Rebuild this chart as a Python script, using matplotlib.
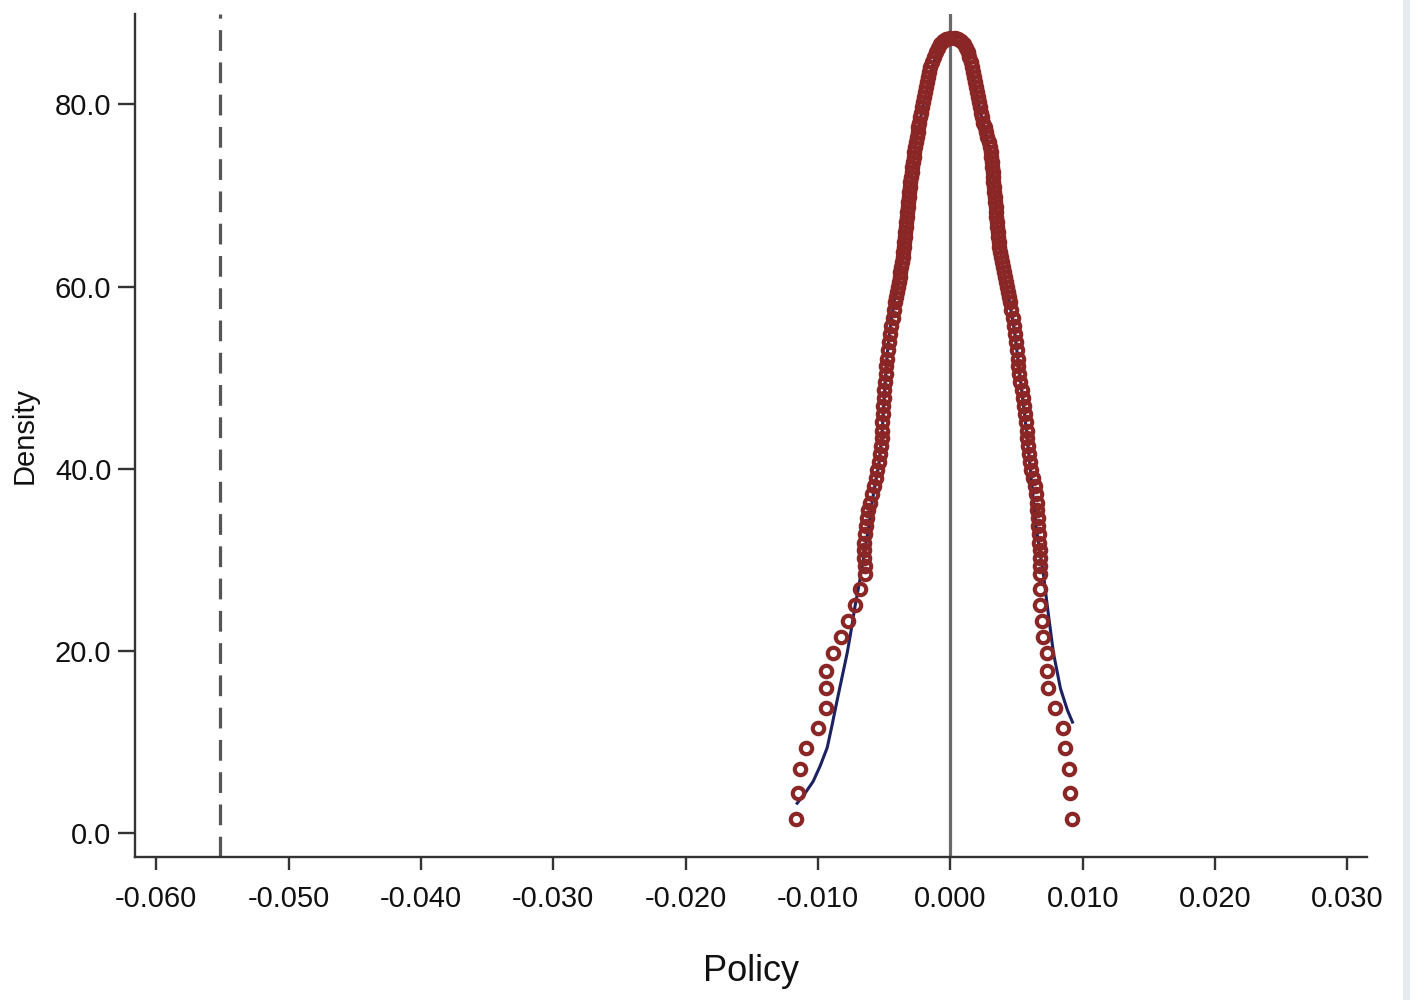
import numpy as np
import matplotlib
matplotlib.use("Agg")
import matplotlib.pyplot as plt
from matplotlib.patches import Rectangle
from matplotlib.ticker import FormatStrFormatter

plt.rcParams['font.family'] = ['Liberation Sans', 'DejaVu Sans']
plt.rcParams['axes.unicode_minus'] = False

# ===============================
# DATA
# ===============================

# density levels of the placebo estimates (shared by both flanks)
dens = [87.3, 87.2, 86.9, 86.6, 86.2, 85.7, 85.2, 84.6, 84.1, 83.5,
        83.0, 82.4, 81.9, 81.3, 80.8, 80.2, 79.7, 79.1, 78.6, 78.0,
        77.5, 77.0, 76.4, 75.9, 75.3, 74.8, 74.2, 73.7, 73.1, 72.6,
        72.0, 71.5, 70.9, 70.4, 69.8, 69.3, 68.7, 68.2, 67.6, 67.1,
        66.5, 66.0, 65.4, 64.9, 64.3, 63.8, 63.2, 62.7, 62.1, 61.6,
        61.0, 60.5, 59.9, 59.4, 58.8, 58.3, 57.4, 56.5, 55.7, 54.8,
        53.9, 53.0, 52.1, 51.3, 50.4, 49.5, 48.6, 47.8, 46.9, 46.0,
        45.1, 44.2, 43.4, 42.5, 41.6, 40.7, 39.9, 39.0, 38.1, 37.2,
        36.3, 35.5, 34.6, 33.7, 32.8, 31.9, 31.1, 30.2, 29.3, 28.5,
        26.8, 25.0, 23.3, 21.5, 19.8, 17.8, 15.9, 13.8, 11.6, 9.4,
        7.0, 4.4, 1.6]

# placebo coefficients, left flank (negative side)
coef_left = [0.0, -0.00030, -0.00053, -0.00076, -0.00091, -0.00106, -0.00121, -0.00136, -0.00151, -0.00159,
             -0.00166, -0.00174, -0.00182, -0.00189, -0.00197, -0.00204, -0.00212, -0.00219, -0.00227, -0.00234,
             -0.00242, -0.00242, -0.00250, -0.00257, -0.00265, -0.00272, -0.00272, -0.00280, -0.00287, -0.00287,
             -0.00295, -0.00303, -0.00303, -0.00310, -0.00310, -0.00318, -0.00318, -0.00325, -0.00325, -0.00333,
             -0.00333, -0.00340, -0.00340, -0.00348, -0.00348, -0.00356, -0.00356, -0.00363, -0.00371, -0.00378,
             -0.00378, -0.00386, -0.00393, -0.00401, -0.00408, -0.00416, -0.00424, -0.00431, -0.00446, -0.00454,
             -0.00461, -0.00469, -0.00477, -0.00484, -0.00484, -0.00492, -0.00499, -0.00499, -0.00507, -0.00507,
             -0.00514, -0.00514, -0.00514, -0.00522, -0.00530, -0.00537, -0.00552, -0.00560, -0.00575, -0.00590,
             -0.00605, -0.00620, -0.00628, -0.00635, -0.00643, -0.00651, -0.00651, -0.00651, -0.00643, -0.00643,
             -0.00681, -0.00719, -0.00772, -0.00825, -0.00885, -0.00938, -0.00938, -0.00938, -0.00998, -0.01089,
             -0.01135, -0.01150, -0.01165]

# placebo coefficients, right flank (positive side)
coef_right = [0.00038, 0.00061, 0.00083, 0.00106, 0.00121, 0.00136, 0.00144, 0.00159, 0.00166, 0.00174,
              0.00182, 0.00189, 0.00197, 0.00204, 0.00212, 0.00219, 0.00227, 0.00234, 0.00242, 0.00250,
              0.00265, 0.00272, 0.00280, 0.00295, 0.00303, 0.00310, 0.00310, 0.00318, 0.00318, 0.00325,
              0.00325, 0.00325, 0.00333, 0.00333, 0.00340, 0.00340, 0.00348, 0.00348, 0.00348, 0.00356,
              0.00356, 0.00363, 0.00363, 0.00371, 0.00371, 0.00378, 0.00386, 0.00393, 0.00401, 0.00408,
              0.00416, 0.00424, 0.00431, 0.00439, 0.00446, 0.00454, 0.00461, 0.00477, 0.00484, 0.00492,
              0.00499, 0.00507, 0.00514, 0.00514, 0.00522, 0.00530, 0.00545, 0.00552, 0.00560, 0.00567,
              0.00575, 0.00582, 0.00582, 0.00590, 0.00598, 0.00605, 0.00613, 0.00628, 0.00643, 0.00651,
              0.00658, 0.00658, 0.00666, 0.00666, 0.00673, 0.00673, 0.00681, 0.00681, 0.00681, 0.00681,
              0.00681, 0.00681, 0.00696, 0.00703, 0.00734, 0.00734, 0.00741, 0.00794, 0.00855, 0.00870,
              0.00900, 0.00908, 0.00923]

# kernel density curve
kd_x = [-0.01157, -0.01097, -0.01036, -0.00983, -0.00930, -0.00893, -0.00855, -0.00817, -0.00779, -0.00749,
        -0.00719, -0.00688, -0.00658, -0.00620, -0.00582, -0.00537, -0.00514, -0.00499, -0.00484, -0.00461,
        -0.00424, -0.00371, -0.00325, -0.00295, -0.00257, -0.00197, -0.00129, -0.00061, 0.0, 0.00061,
        0.00121, 0.00189, 0.00250, 0.00310, 0.00340, 0.00371, 0.00424, 0.00484, 0.00530, 0.00575,
        0.00613, 0.00651, 0.00703, 0.00734, 0.00779, 0.00832, 0.00885, 0.00923]
kd_y = [3.3, 4.4, 5.7, 7.4, 9.4, 11.9, 14.6, 17.2, 19.8, 22.3,
        25.0, 27.4, 30.0, 33.3, 37.1, 40.8, 44.3, 47.9, 51.4, 54.9,
        58.4, 62.9, 67.3, 71.7, 76.1, 80.5, 84.6, 86.4, 86.8, 86.5,
        85.4, 81.6, 77.7, 73.9, 69.5, 64.5, 60.2, 55.2, 49.7, 44.2,
        38.7, 33.3, 28.5, 24.8, 19.8, 15.9, 13.5, 12.2]

true_coef = -0.0552      # actual estimate (dashed line)
x_ticks = [-0.06, -0.05, -0.04, -0.03, -0.02, -0.01, 0.0, 0.01, 0.02, 0.03]
y_ticks = [0, 20, 40, 60, 80]

# ===============================
# PLOT
# ===============================

marker_col = '#8b2626'
line_col = '#1b2161'
axis_col = '#333333'

fig = plt.figure(figsize=(14.18, 10.07), dpi=100)
ax = fig.add_axes([0.0952, 0.149, 0.869, 0.837])

ax.axvline(0.0, color='#6a6a6a', lw=2.3, zorder=1)
ax.axvline(true_coef, color='#555555', lw=2.3, ls=(0, (6.5, 3.6)), zorder=1)

ax.plot(kd_x, kd_y, color=line_col, lw=2.2, zorder=2)
ax.plot(coef_left, dens, ls='none', marker='o', ms=8.2, mfc='none',
        mec=marker_col, mew=3.0, zorder=3)
ax.plot(coef_right, dens, ls='none', marker='o', ms=8.2, mfc='none',
        mec=marker_col, mew=3.0, zorder=3)

ax.set_xlim(-0.0616, 0.0315)
ax.set_ylim(-2.6, 89.9)

ax.set_xticks(x_ticks)
ax.set_yticks(y_ticks)
ax.xaxis.set_major_formatter(FormatStrFormatter('%.3f'))
ax.yaxis.set_major_formatter(FormatStrFormatter('%.1f'))

for side in ['top', 'right']:
    ax.spines[side].set_visible(False)
for side in ['left', 'bottom']:
    ax.spines[side].set_color(axis_col)
    ax.spines[side].set_linewidth(1.7)

ax.tick_params(axis='x', direction='out', length=9, width=1.7, color=axis_col,
               labelsize=21, pad=11, labelcolor='#111111')
ax.tick_params(axis='y', direction='out', length=12, width=1.7, color=axis_col,
               labelsize=21, pad=5, labelcolor='#111111')

ax.set_xlabel('Policy', fontsize=26, labelpad=30, color='#111111')
ax.set_ylabel('Density', fontsize=21, labelpad=12, color='#111111')

# thin light strip at the right edge of the screenshot
fig.patches.append(Rectangle((0.9894, 0.007), 0.005, 0.993, transform=fig.transFigure,
                             facecolor='#e6ebf0', edgecolor='none'))

plt.savefig('out.png', dpi=100)
plt.close()
